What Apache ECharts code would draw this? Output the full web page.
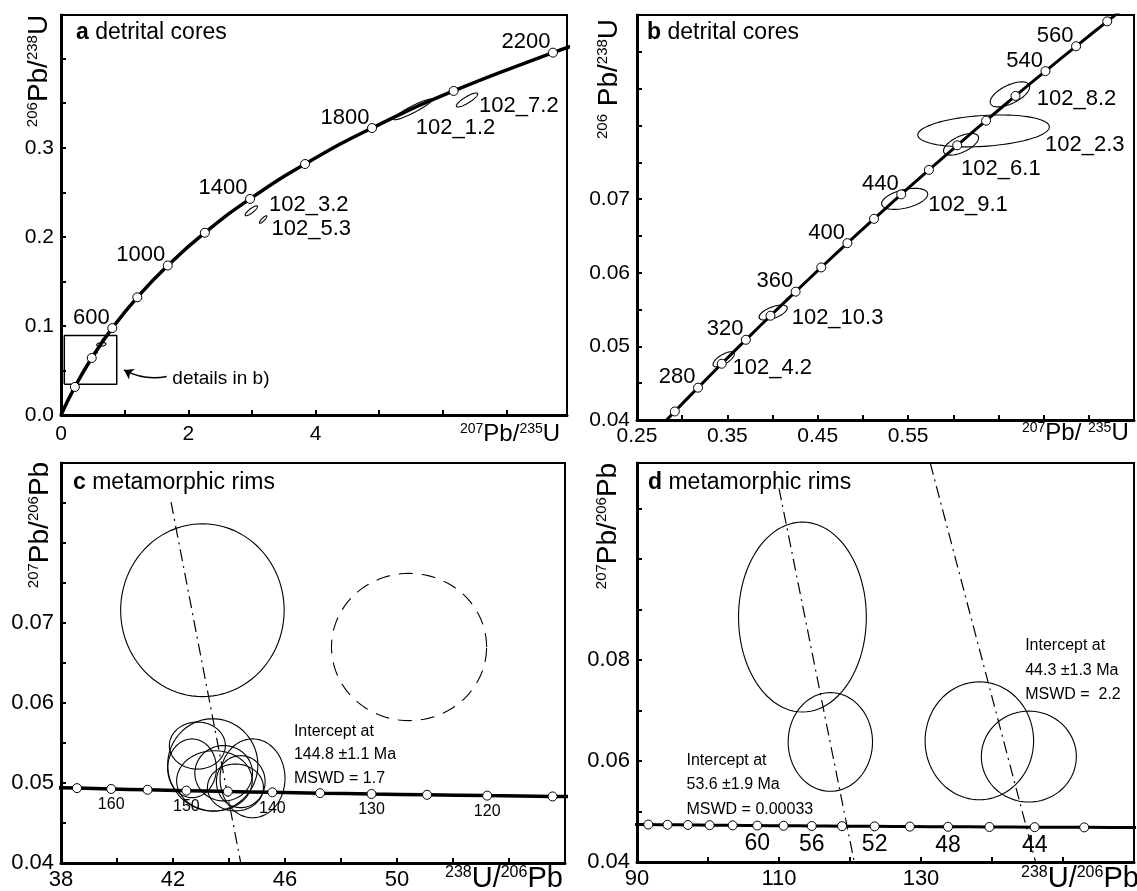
<!DOCTYPE html>
<html><head><meta charset="utf-8">
<script src="https://cdn.jsdelivr.net/npm/echarts@6/dist/echarts.min.js"></script>
<style>html,body{margin:0;padding:0;background:#fff}#c{width:1137px;height:891px}</style>
</head><body><div id="c"></div>
<script>
// ===================== DATA =====================
// Panel a: Wetherill concordia, age (Ma), 207Pb/235U (x), 206Pb/238U (y)
const concA_age = [0, 200, 400, 600, 800, 1000, 1200, 1400, 1600, 1800, 2000, 2200, 2240];
const concA_x = [0, 0.2177, 0.4828, 0.8056, 1.1987, 1.6774, 2.2603, 2.9701, 3.8344, 4.8869, 6.1685, 7.7292, 8.08];
const concA_y = [0, 0.03151, 0.06402, 0.09754, 0.13213, 0.16780, 0.20460, 0.24256, 0.28172, 0.32210, 0.36377, 0.40674, 0.41550];
const concA_marks = [200, 400, 600, 800, 1000, 1200, 1400, 1600, 1800, 2000, 2200];
const concA_labels = [600, 1000, 1400, 1800, 2200];

// Panel b: concordia detail
const concB_age = [240, 260, 280, 300, 320, 340, 360, 380, 400, 420, 440, 460, 480, 500, 520, 540, 560, 580, 600];
const concB_x = [0.26664, 0.29183, 0.31753, 0.34374, 0.37047, 0.39773, 0.42554, 0.45389, 0.48281, 0.51231, 0.54239, 0.57307, 0.60436, 0.63628, 0.66883, 0.70203, 0.73588, 0.77041, 0.80563];
const concB_y = [0.03793, 0.04116, 0.04439, 0.04764, 0.05089, 0.05416, 0.05743, 0.06072, 0.06402, 0.06732, 0.07064, 0.07397, 0.07730, 0.08065, 0.08401, 0.08738, 0.09075, 0.09414, 0.09754];
const concB_marks = [260, 280, 300, 320, 340, 360, 380, 400, 420, 440, 460, 480, 500, 520, 540, 560, 580];
const concB_labels = [280, 320, 360, 400, 440, 540, 560];

// Panel c: Tera-Wasserburg concordia, 238U/206Pb (x), 207Pb/206Pb (y)
const concC_age = [170, 165, 160, 155, 150, 145, 140, 135, 130, 125, 120, 115, 110];
const concC_x = [37.422, 38.571, 39.792, 41.092, 42.478, 43.960, 45.548, 47.253, 49.090, 51.073, 53.221, 55.557, 58.105];
const concC_y = [0.049466, 0.049361, 0.049255, 0.049150, 0.049045, 0.048940, 0.048836, 0.048732, 0.048629, 0.048526, 0.048423, 0.048321, 0.048218];
const concC_marks = [165, 160, 155, 150, 145, 140, 135, 130, 125, 120, 115];
const concC_labels = [160, 150, 140, 130, 120];

// Panel d: Tera-Wasserburg concordia (young ages)
const concD_age = [72, 70, 68, 66, 64, 62, 60, 58, 56, 54, 52, 50, 48, 46, 44, 42, 40, 38, 36];
const concD_x = [89.034, 91.592, 94.301, 97.174, 100.226, 103.475, 106.940, 110.646, 114.615, 118.879, 123.470, 128.429, 133.801, 139.640, 146.010, 152.987, 160.661, 169.143, 178.568];
const concD_y = [0.047451, 0.047411, 0.047372, 0.047332, 0.047292, 0.047252, 0.047213, 0.047173, 0.047134, 0.047094, 0.047055, 0.047015, 0.046976, 0.046937, 0.046897, 0.046858, 0.046819, 0.046780, 0.046741];
const concD_marks = [70, 68, 66, 64, 62, 60, 58, 56, 54, 52, 50, 48, 46, 44, 42];
const concD_labels = [60, 56, 52, 48, 44];

// Error ellipses: [centre x, centre y, half-width x, half-height y, correlation]
const ellA = [
  [5.527, 0.3430, 0.302, 0.01157, 0.93],   // 102_1.2
  [6.379, 0.3536, 0.168, 0.00787, 0.85],   // 102_7.2
  [2.990, 0.2292, 0.097, 0.0056, 0.85],    // 102_3.2
  [3.176, 0.2194, 0.058, 0.0042, 0.85]     // 102_5.3
];
const ellB = [
  [0.6627, 0.08422, 0.02183, 0.00170, 0.60],  // 102_8.2
  [0.6335, 0.07926, 0.07280, 0.00217, 0.25],  // 102_2.3
  [0.6086, 0.07744, 0.01940, 0.00147, 0.60],  // 102_6.1
  [0.5462, 0.07003, 0.02550, 0.00143, 0.45],  // 102_9.1
  [0.4007, 0.05459, 0.01560, 0.00102, 0.60],  // 102_10.3
  [0.3459, 0.04825, 0.01180, 0.00102, 0.70]   // 102_4.2
];
const ellC = [
  [43.05, 0.0716, 2.92, 0.0108, 0],
  [42.87, 0.05468, 1.00, 0.00294, 0],
  [43.42, 0.05226, 1.61, 0.00577, 0],
  [42.68, 0.05184, 0.87, 0.00367, 0],
  [43.48, 0.05027, 1.35, 0.00377, 0],
  [43.81, 0.05122, 1.03, 0.00346, 0],
  [44.23, 0.04944, 1.00, 0.00293, 0],
  [44.84, 0.05059, 1.16, 0.00493, 0],
  [44.42, 0.05017, 0.87, 0.00325, 0]
];
const ellCdashed = [[50.43, 0.0670, 2.77, 0.0092, 0]];
const ellD = [
  [113.3, 0.0885, 9.0, 0.0188, 0],
  [117.23, 0.06377, 5.94, 0.00977, 0],
  [138.22, 0.0640, 7.64, 0.01167, 0],
  [145.19, 0.06087, 6.69, 0.0090, 0]
];

// discordia (regression) lines
const discC = [[41.93, 0.0851], [44.42, 0.0400]];
const discD1 = [[110.0, 0.1140], [120.6, 0.0400]];
const discD2 = [[131.3, 0.1190], [146.1, 0.0402]];

// detail box in panel a and its arrow
const boxA = [[0.052, 0.0345], [0.876, 0.0345], [0.876, 0.0891], [0.052, 0.0891], [0.052, 0.0345]];
const arrowA = [[1.66, 0.0431], [0.99, 0.0506]];

// text labels: [x, y, text]
const namesA = [[6.561, 0.3464, '102_7.2'], [5.566, 0.3217, '102_1.2'], [3.26, 0.2363, '102_3.2'], [3.30, 0.2090, '102_5.3']];
const noteA = [[1.741, 0.0412, 'details in b)']];
const namesB = [[0.6918, 0.08355, '102_8.2'], [0.7009, 0.07733, '102_2.3'], [0.6081, 0.07405, '102_6.1'], [0.5717, 0.06918, '102_9.1'], [0.4206, 0.0538, '102_10.3'], [0.3551, 0.04702, '102_4.2']];
const notesC = [[46.30, 0.0535, 'Intercept at\n144.8 ±1.1 Ma\nMSWD = 1.7']];
const notesD = [[96.9, 0.0553, 'Intercept at\n53.6 ±1.9 Ma\nMSWD = 0.00033'], [144.6, 0.0779, 'Intercept at\n44.3 ±1.3 Ma\nMSWD =  2.2']];

// tick labels shown
const ticksAx = [0, 2, 4], ticksAy = [0, 0.1, 0.2, 0.3];
const ticksBx = [0.25, 0.35, 0.45, 0.55], ticksBy = [0.04, 0.05, 0.06, 0.07];
const ticksCx = [38, 42, 46, 50], ticksCy = [0.04, 0.05, 0.06, 0.07];
const ticksDx = [90, 110, 130], ticksDy = [0.04, 0.06, 0.08];

// ===================== CHART =====================
const FF = '"Liberation Sans", Arial, Helvetica, sans-serif';
const chart = echarts.init(document.getElementById('c'), null, {renderer: 'canvas'});

function axis(g, min, max, interval, shown, dec, fs, margin) {
  return {
    type: 'value', gridIndex: g, min, max, interval,
    axisLine: {show: true, onZero: false, lineStyle: {color: '#000', width: 3}},
    axisTick: {show: true, inside: true, length: 5, lineStyle: {color: '#000', width: 2}},
    splitLine: {show: false},
    axisLabel: {
      color: '#000', fontSize: fs, fontFamily: FF, margin,
      showMinLabel: true, showMaxLabel: true,
      formatter: v => {
        const r = Math.round(v * 1e5) / 1e5;
        return shown.some(s => Math.abs(s - r) < 1e-7) ? r.toFixed(dec) : '';
      }
    }
  };
}
const zip = (xs, ys) => xs.map((x, i) => [x, ys[i]]);

function concLine(g, xs, ys, w) {
  return {type: 'line', xAxisIndex: g, yAxisIndex: g, data: zip(xs, ys), smooth: true, symbol: 'none',
    lineStyle: {color: '#000', width: w}, z: 3, clip: true, silent: true};
}
function concMarks(g, ages, xs, ys, marks, labels, labelOpt) {
  const data = [];
  ages.forEach((a, i) => { if (marks.includes(a)) data.push([xs[i], ys[i], labels.includes(a) ? String(a) : '']); });
  return {type: 'scatter', xAxisIndex: g, yAxisIndex: g, data, symbol: 'circle', symbolSize: 9,
    itemStyle: {color: '#fff', borderColor: '#000', borderWidth: 1, opacity: 1},
    label: Object.assign({show: true, formatter: p => p.value[2], color: '#000', fontFamily: FF}, labelOpt),
    z: 5, clip: true, silent: true};
}
function ellipses(g, data, dash) {
  return {type: 'custom', xAxisIndex: g, yAxisIndex: g, coordinateSystem: 'cartesian2d', data, silent: true, z: 2, clip: true,
    renderItem: (params, api) => {
      const cx = api.value(0), cy = api.value(1), sx = api.value(2), sy = api.value(3), r = api.value(4);
      const k = Math.sqrt(1 - r * r);
      const pts = [];
      for (let i = 0; i < 96; i++) {
        const t = 2 * Math.PI * i / 96;
        pts.push(api.coord([cx + sx * Math.cos(t), cy + sy * (r * Math.cos(t) + k * Math.sin(t))]));
      }
      return {type: 'polygon', shape: {points: pts},
        style: {fill: 'none', stroke: '#000', lineWidth: 1.1, lineDash: dash || null}};
    }};
}
function polyline(g, pts, style) {
  return {type: 'line', xAxisIndex: g, yAxisIndex: g, data: pts, symbol: 'none', smooth: false,
    lineStyle: Object.assign({color: '#000', width: 1.2}, style), z: 4, silent: true, clip: true};
}
function texts(g, items, fs, lh) {
  return {type: 'scatter', xAxisIndex: g, yAxisIndex: g, symbolSize: 1,
    data: items.map(t => ({value: [t[0], t[1]], name: t[2]})),
    itemStyle: {color: 'rgba(255,255,255,0)', opacity: 1},
    label: {show: true, position: 'right', distance: 0, formatter: p => p.name, color: '#000', opacity: 1,
      fontSize: fs, fontFamily: FF, lineHeight: lh || fs, align: 'left', verticalAlign: 'middle'},
    z: 6, silent: true};
}

const abLabel = {fontSize: 22, position: [2.5, 5.5], align: 'right', verticalAlign: 'bottom'};
const dash = [12, 5, 2, 5];

const option = {
  animation: false,
  backgroundColor: '#fff',
  grid: [
    {left: 61, top: 15, width: 506, height: 400, show: true, borderColor: '#000', borderWidth: 2},
    {left: 637, top: 15, width: 504, height: 405, show: true, borderColor: '#000', borderWidth: 2},
    {left: 61, top: 463, width: 504, height: 400, show: true, borderColor: '#000', borderWidth: 2},
    {left: 637, top: 463, width: 504, height: 399, show: true, borderColor: '#000', borderWidth: 2}
  ],
  xAxis: [
    axis(0, 0, 7.95, 1, ticksAx, 0, 21, 9),
    axis(1, 0.25, 0.80, 0.05, ticksBx, 2, 21, 6),
    axis(2, 38, 56, 2, ticksCx, 0, 22, 6),
    axis(3, 90, 160, 10, ticksDx, 0, 22, 6)
  ],
  yAxis: [
    axis(0, 0, 0.449, 0.05, ticksAy, 1, 21, 7),
    axis(1, 0.04, 0.095, 0.005, ticksBy, 2, 21, 7),
    axis(2, 0.04, 0.09, 0.005, ticksCy, 2, 22, 7),
    axis(3, 0.04, 0.119, 0.01, ticksDy, 2, 22, 7)
  ],
  series: [
    // panel a
    ellipses(0, ellA.concat(ellB)),
    polyline(0, boxA, {width: 1.5}),
    {type: 'lines', coordinateSystem: 'cartesian2d', xAxisIndex: 0, yAxisIndex: 0, silent: true, z: 4,
      symbol: ['none', 'arrow'], symbolSize: 9,
      lineStyle: {color: '#000', width: 1.5, curveness: 0.18, opacity: 1},
      data: [{coords: arrowA}]},
    concLine(0, concA_x, concA_y, 3.5),
    concMarks(0, concA_age, concA_x, concA_y, concA_marks, concA_labels, abLabel),
    texts(0, namesA, 22),
    texts(0, noteA, 19),
    // panel b
    ellipses(1, ellB),
    concLine(1, concB_x, concB_y, 3),
    concMarks(1, concB_age, concB_x, concB_y, concB_marks, concB_labels, abLabel),
    texts(1, namesB, 22),
    // panel c
    ellipses(2, ellC),
    ellipses(2, ellCdashed, [14, 9]),
    polyline(2, discC, {type: dash, width: 1.2}),
    concLine(2, concC_x, concC_y, 3.5),
    concMarks(2, concC_age, concC_x, concC_y, concC_marks, concC_labels, {fontSize: 16, position: 'bottom', distance: 3}),
    texts(2, notesC, 16, 23.5),
    // panel d
    ellipses(3, ellD),
    polyline(3, discD1, {type: dash, width: 1.2}),
    polyline(3, discD2, {type: dash, width: 1.2}),
    concLine(3, concD_x, concD_y, 3),
    concMarks(3, concD_age, concD_x, concD_y, concD_marks, concD_labels, {fontSize: 23, position: 'bottom', distance: 2}),
    texts(3, notesD, 16, 24.5)
  ],
  graphic: [
    // panel titles
    {type: 'text', x: 76, y: 33, style: {text: '{b|a} detrital cores', fontSize: 23, fontFamily: FF, fill: '#000', verticalAlign: 'middle', rich: {b: {fontWeight: 'bold', fontSize: 23, fontFamily: FF, fill: '#000'}}}},
    {type: 'text', x: 647, y: 33, style: {text: '{b|b} detrital cores', fontSize: 23, fontFamily: FF, fill: '#000', verticalAlign: 'middle', rich: {b: {fontWeight: 'bold', fontSize: 23, fontFamily: FF, fill: '#000'}}}},
    {type: 'text', x: 73, y: 483, style: {text: '{b|c} metamorphic rims', fontSize: 23, fontFamily: FF, fill: '#000', verticalAlign: 'middle', rich: {b: {fontWeight: 'bold', fontSize: 23, fontFamily: FF, fill: '#000'}}}},
    {type: 'text', x: 648, y: 483, style: {text: '{b|d} metamorphic rims', fontSize: 23, fontFamily: FF, fill: '#000', verticalAlign: 'middle', rich: {b: {fontWeight: 'bold', fontSize: 23, fontFamily: FF, fill: '#000'}}}},
    // y-axis names (rotated)
    {type: 'text', x: 39, y: 71, rotation: Math.PI / 2, style: {text: '{s|206}{m|Pb/}{s|238}{m|U}', align: 'center', verticalAlign: 'middle', fill: '#000',
      rich: {s: {fontSize: 15, lineHeight: 15, verticalAlign: 'top', fontFamily: FF, fill: '#000'}, m: {fontSize: 28, lineHeight: 28, fontFamily: FF, fill: '#000'}}}},
    {type: 'text', x: 609, y: 79, rotation: Math.PI / 2, style: {text: '{s|206}{m| Pb/}{s|238}{m|U}', align: 'center', verticalAlign: 'middle', fill: '#000',
      rich: {s: {fontSize: 15, lineHeight: 15, verticalAlign: 'top', fontFamily: FF, fill: '#000'}, m: {fontSize: 28, lineHeight: 28, fontFamily: FF, fill: '#000'}}}},
    {type: 'text', x: 40, y: 525, rotation: Math.PI / 2, style: {text: '{s|207}{m|Pb/}{s|206}{m|Pb}', align: 'center', verticalAlign: 'middle', fill: '#000',
      rich: {s: {fontSize: 15, lineHeight: 15, verticalAlign: 'top', fontFamily: FF, fill: '#000'}, m: {fontSize: 28, lineHeight: 28, fontFamily: FF, fill: '#000'}}}},
    {type: 'text', x: 608, y: 526, rotation: Math.PI / 2, style: {text: '{s|207}{m|Pb/}{s|206}{m|Pb}', align: 'center', verticalAlign: 'middle', fill: '#000',
      rich: {s: {fontSize: 15, lineHeight: 15, verticalAlign: 'top', fontFamily: FF, fill: '#000'}, m: {fontSize: 28, lineHeight: 28, fontFamily: FF, fill: '#000'}}}},
    // x-axis names
    {type: 'text', x: 460, y: 434, style: {text: '{s|207}{m|Pb/}{s|235}{m|U}', align: 'left', verticalAlign: 'middle', fill: '#000',
      rich: {s: {fontSize: 14, lineHeight: 14, verticalAlign: 'top', fontFamily: FF, fill: '#000'}, m: {fontSize: 24, lineHeight: 24, fontFamily: FF, fill: '#000'}}}},
    {type: 'text', x: 1022, y: 433, style: {text: '{s|207}{m|Pb/ }{s|235}{m|U}', align: 'left', verticalAlign: 'middle', fill: '#000',
      rich: {s: {fontSize: 14, lineHeight: 14, verticalAlign: 'top', fontFamily: FF, fill: '#000'}, m: {fontSize: 24, lineHeight: 24, fontFamily: FF, fill: '#000'}}}},
    {type: 'text', x: 445, y: 879, style: {text: '{s|238}{m|U/}{s|206}{m|Pb}', align: 'left', verticalAlign: 'middle', fill: '#000',
      rich: {s: {fontSize: 16, lineHeight: 16, verticalAlign: 'top', fontFamily: FF, fill: '#000'}, m: {fontSize: 29, lineHeight: 29, fontFamily: FF, fill: '#000'}}}},
    {type: 'text', x: 1021, y: 879, style: {text: '{s|238}{m|U/}{s|206}{m|Pb}', align: 'left', verticalAlign: 'middle', fill: '#000',
      rich: {s: {fontSize: 16, lineHeight: 16, verticalAlign: 'top', fontFamily: FF, fill: '#000'}, m: {fontSize: 29, lineHeight: 29, fontFamily: FF, fill: '#000'}}}}
  ]
};
chart.setOption(option);
</script>
</body></html>
